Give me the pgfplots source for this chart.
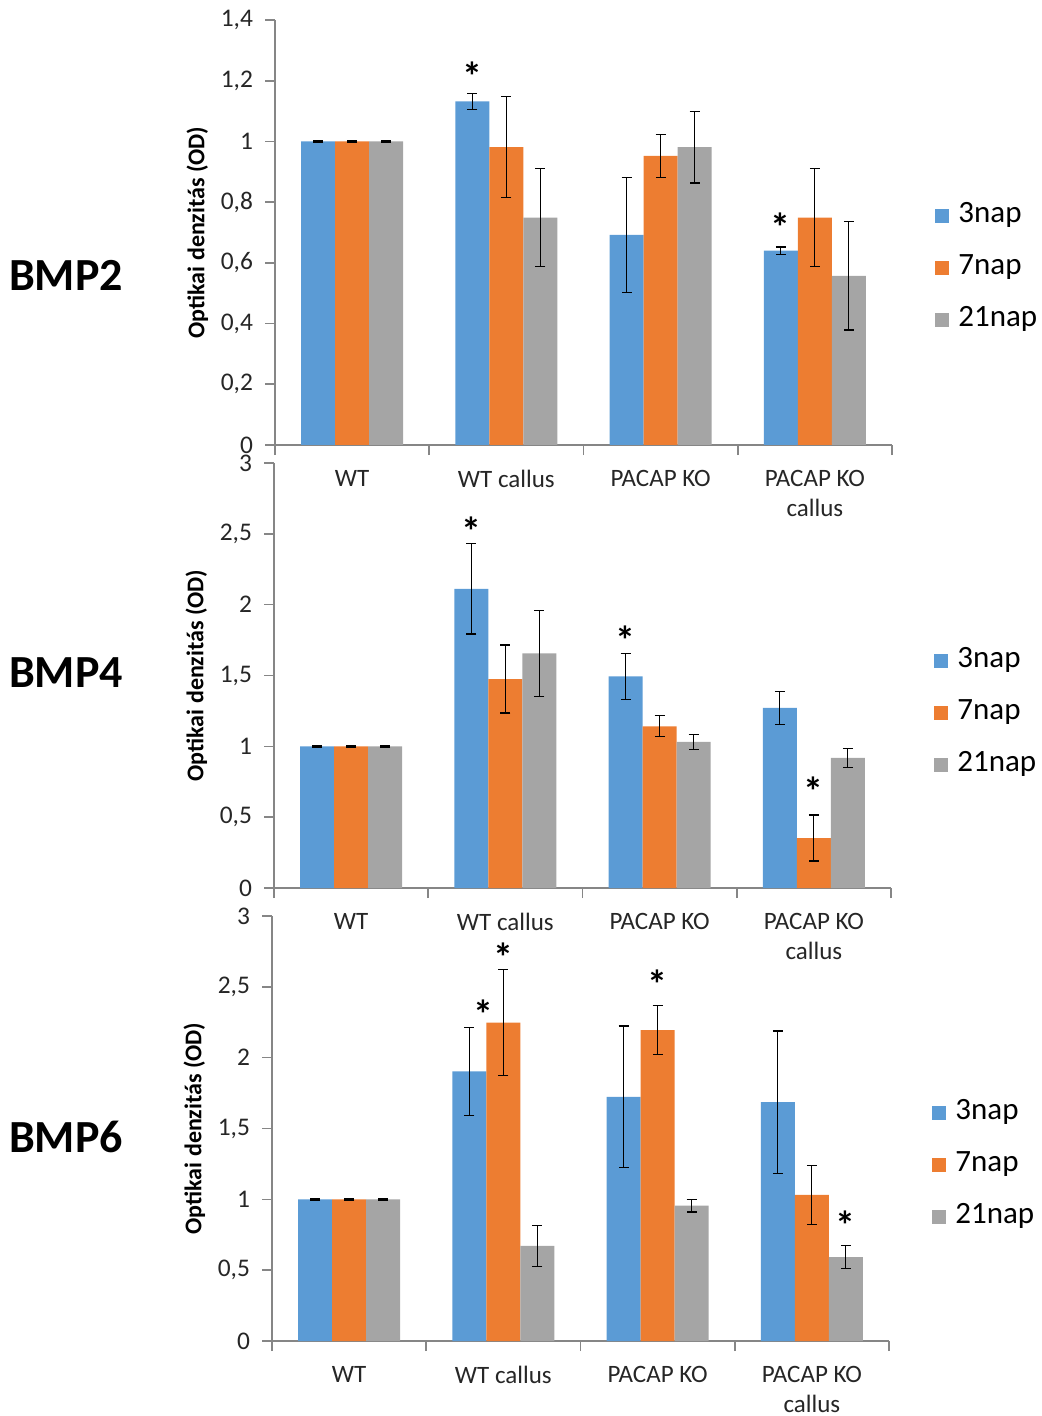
\documentclass[border=0pt]{standalone}
\usepackage{fontspec}
\setmainfont{Carlito}
\usepackage{pgfplots}
\pgfplotsset{compat=1.18}
\definecolor{cblue}{RGB}{91,155,213}
\definecolor{corange}{RGB}{237,125,49}
\definecolor{cgray}{RGB}{165,165,165}
\definecolor{axgray}{RGB}{134,134,134}
\tikzset{ast/.style={font=\bfseries\fontsize{20}{20}\selectfont, inner sep=0pt, anchor=center, yshift=-3.5pt}}
\pgfplotsset{
  bmp/.style={
    scale only axis, width=308.5pt, height=212.5pt,
    ybar=0pt, bar width=17pt,
    xmin=-0.5, xmax=3.5, ymin=0,
    axis x line*=bottom, axis y line*=left,
    axis line style={-, draw=axgray, line width=0.8pt},
    tick align=outside, major tick length=5pt, minor tick length=5pt,
    tick style={draw=axgray, line width=0.8pt},
    xtick={0,1,2,3},
    xticklabels={WT, WT callus, PACAP KO, {PACAP KO\\callus}},
    major x tick style={draw=none},
    minor xtick={-0.5,0.5,1.5,2.5,3.5},
    xticklabel style={align=center, font=\fontsize{12.5}{15}\selectfont, text=black!85, yshift=-4pt},
    yticklabel style={font=\fontsize{12.7}{14}\selectfont, text=black!85, inner ysep=0pt, xshift=-2.5pt},
    /pgf/number format/assume math mode=true,
    /pgf/number format/use comma,
    ylabel={Optikai denzitás (OD)},
    ylabel style={font=\bfseries\fontsize{12}{14}\selectfont, at={(axis description cs:-0.126,0.5)}, anchor=center},
    legend image code/.code={\fill[##1] (0pt,-3.5pt) rectangle (7pt,3.5pt); \path (9.5pt,0pt);},
    legend style={draw=none, fill=none, font=\fontsize{15.5}{18}\selectfont, anchor=west,
      nodes={inner xsep=2pt, inner ysep=0pt, text height=11pt, text depth=4pt},
      row sep=11pt},
    legend cell align=left,
    error bars/y dir=both, error bars/y explicit,
    error bars/error bar style={black, line width=0.6pt},
    error bars/error mark options={rotate=90, mark size=2.5pt, black, line width=0.6pt},
  },
}
\begin{document}
\begin{tikzpicture}
\useasboundingbox (0,0) rectangle (520.5pt,-708pt);
% ---------- BMP2 ----------
\begin{axis}[bmp, at={(137.5pt,-222.5pt)}, anchor=south west,
  ymax=1.4, ytick={0,0.2,0.4,0.6,0.8,1,1.2,1.4},
  legend style={at={(1.06,0.417)}}]
\addplot[fill=cblue, draw=none] coordinates {(0,1) +- (0,0.002) (1,1.132) +- (0,0.027) (2,0.692) +- (0,0.19) (3,0.640) +- (0,0.012)};
\addplot[fill=corange, draw=none] coordinates {(0,1) +- (0,0.002) (1,0.981) +- (0,0.166) (2,0.952) +- (0,0.072) (3,0.749) +- (0,0.161)};
\addplot[fill=cgray, draw=none] coordinates {(0,1) +- (0,0.002) (1,0.749) +- (0,0.161) (2,0.981) +- (0,0.118) (3,0.557) +- (0,0.178)};
\legend{3nap,7nap,21nap}
\node[ast] at (axis cs:0.78,1.239) {*};
\node[ast] at (axis cs:2.78,0.741) {*};
\end{axis}
% ---------- BMP4 ----------
\begin{axis}[bmp, at={(137pt,-444pt)}, anchor=south west,
  ymax=3, ytick={0,0.5,1,1.5,2,2.5,3},
  legend style={at={(1.06,0.412)}}]
\addplot[fill=cblue, draw=none] coordinates {(0,1) +- (0,0.004) (1,2.111) +- (0,0.318) (2,1.494) +- (0,0.162) (3,1.271) +- (0,0.115)};
\addplot[fill=corange, draw=none] coordinates {(0,1) +- (0,0.004) (1,1.475) +- (0,0.24) (2,1.141) +- (0,0.074) (3,0.353) +- (0,0.162)};
\addplot[fill=cgray, draw=none] coordinates {(0,1) +- (0,0.004) (1,1.656) +- (0,0.305) (2,1.031) +- (0,0.055) (3,0.918) +- (0,0.068)};
\legend{3nap,7nap,21nap}
\node[ast] at (axis cs:0.78,2.565) {*};
\node[ast] at (axis cs:1.78,1.80) {*};
\node[ast] at (axis cs:3,0.73) {*};
\end{axis}
% ---------- BMP6 ----------
\begin{axis}[bmp, at={(136pt,-670.5pt)}, anchor=south west,
  ymax=3, ytick={0,0.5,1,1.5,2,2.5,3},
  legend style={at={(1.06,0.415)}}]
\addplot[fill=cblue, draw=none] coordinates {(0,1) +- (0,0.004) (1,1.903) +- (0,0.31) (2,1.723) +- (0,0.5) (3,1.686) +- (0,0.502)};
\addplot[fill=corange, draw=none] coordinates {(0,1) +- (0,0.004) (1,2.248) +- (0,0.375) (2,2.194) +- (0,0.173) (3,1.031) +- (0,0.207)};
\addplot[fill=cgray, draw=none] coordinates {(0,1) +- (0,0.004) (1,0.671) +- (0,0.146) (2,0.955) +- (0,0.044) (3,0.593) +- (0,0.082)};
\legend{3nap,7nap,21nap}
\node[ast] at (axis cs:0.87,2.355) {*};
\node[ast] at (axis cs:1,2.757) {*};
\node[ast] at (axis cs:2,2.567) {*};
\node[ast] at (axis cs:3.22,0.87) {*};
\end{axis}
\node[font=\bfseries\fontsize{23}{23}\selectfont] at (33pt,-137.5pt) {BMP2};
\node[font=\bfseries\fontsize{23}{23}\selectfont] at (33pt,-336.5pt) {BMP4};
\node[font=\bfseries\fontsize{23}{23}\selectfont] at (33pt,-568.5pt) {BMP6};
\end{tikzpicture}
\end{document}
